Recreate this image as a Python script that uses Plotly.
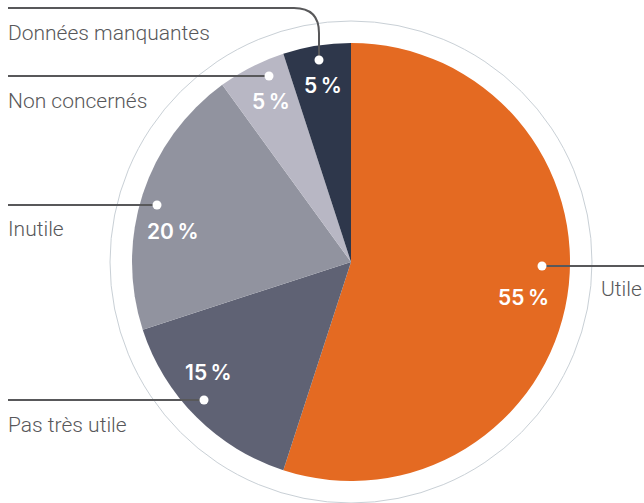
import plotly.graph_objects as go

# Survey answers, clockwise from 12 o'clock
categories = ["Utile", "Pas très utile", "Inutile", "Non concernés", "Données manquantes"]
values = [55, 15, 20, 5, 5]
colors = ["#E46A22", "#5F6274", "#91939F", "#B8B7C4", "#2E374B"]

W, H = 644, 503
CX, CY, R = 351, 262, 219      # pie centre and radius (px)
RING_R = 241                   # thin outer ring radius (px)


def px(x):
    return x / W


def py(y):
    return 1 - y / H


fig = go.Figure()
fig.add_trace(go.Pie(
    labels=categories,
    values=values,
    sort=False,
    direction="clockwise",
    rotation=0,
    marker=dict(colors=colors, line=dict(width=0)),
    textinfo="none",
    hoverinfo="label+percent",
    showlegend=False,
    domain=dict(x=[px(CX - R), px(CX + R)], y=[py(CY + R), py(CY - R)]),
))

shapes = []
annotations = []

# thin grey ring around the pie
shapes.append(dict(type="circle", xref="paper", yref="paper",
                   x0=px(CX - RING_R), x1=px(CX + RING_R),
                   y0=py(CY + RING_R), y1=py(CY - RING_R),
                   line=dict(color="#C9D0D6", width=1), layer="above"))

LINE = dict(color="#58585A", width=2)
label_font = dict(family="Roboto", size=21, color="#58585A", weight=300)
pct_font = dict(family="Inter", size=21, color="#FFFFFF", weight=600)

# leader geometry: (dot x, dot y, label x, label y, side)
leaders = {
    "Utile": (542, 266, 599, 289, "right"),
    "Pas très utile": (204, 400, 6, 425, "left"),
    "Inutile": (157, 205, 6, 229, "left"),
    "Non concernés": (269, 76, 6, 101, "left"),
    "Données manquantes": (319, 60, 6, 33, "top"),
}
pct_pos = {
    "Utile": (523, 297),
    "Pas très utile": (209, 372),
    "Inutile": (173, 231),
    "Non concernés": (271, 101),
    "Données manquantes": (323, 85),
}

for cat, val in zip(categories, values):
    dx, dy, lx, ly, side = leaders[cat]
    if side == "left":
        path = f"M {px(8)},{py(dy)} L {px(dx)},{py(dy)}"
    elif side == "right":
        path = f"M {px(dx)},{py(dy)} L {px(W)},{py(dy)}"
    else:
        path = (f"M {px(8)},{py(8)} L {px(dx - 25)},{py(8)} "
                f"Q {px(dx)},{py(8)} {px(dx)},{py(33)} L {px(dx)},{py(dy)}")
    shapes.append(dict(type="path", xref="paper", yref="paper", path=path,
                       line=LINE, layer="above"))
    shapes.append(dict(type="circle", xref="paper", yref="paper",
                       x0=px(dx - 4.5), x1=px(dx + 4.5),
                       y0=py(dy + 4.5), y1=py(dy - 4.5),
                       fillcolor="#FFFFFF", line=dict(width=0), layer="above"))
    annotations.append(dict(xref="paper", yref="paper", x=px(lx), y=py(ly),
                            xanchor="left", yanchor="middle", text=cat,
                            showarrow=False, font=label_font))
    tx, ty = pct_pos[cat]
    annotations.append(dict(xref="paper", yref="paper", x=px(tx), y=py(ty),
                            xanchor="center", yanchor="middle",
                            text=f"{val}\u202f%",
                            showarrow=False, font=pct_font))

fig.update_layout(
    width=W, height=H,
    margin=dict(l=0, r=0, t=0, b=0),
    paper_bgcolor="#FFFFFF",
    plot_bgcolor="#FFFFFF",
    shapes=shapes,
    annotations=annotations,
)

fig.write_html("out.html")
